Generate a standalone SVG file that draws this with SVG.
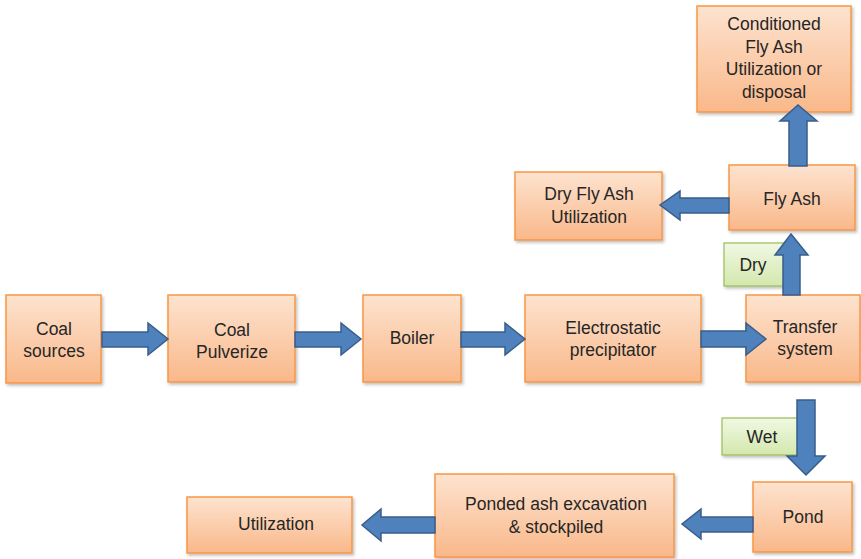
<svg xmlns="http://www.w3.org/2000/svg" width="861" height="559" viewBox="0 0 861 559">
<defs>
<linearGradient id="og" x1="0" y1="0" x2="0" y2="1">
<stop offset="0" stop-color="#fde3cf"/>
<stop offset="1" stop-color="#f9b88a"/>
</linearGradient>
<linearGradient id="gg" x1="0" y1="0" x2="0" y2="1">
<stop offset="0" stop-color="#f1f8e4"/>
<stop offset="1" stop-color="#d3e8ad"/>
</linearGradient>
<filter id="sh" x="-10%" y="-10%" width="130%" height="130%">
<feDropShadow dx="1.5" dy="2" stdDeviation="1.5" flood-color="#000" flood-opacity="0.25"/>
</filter>
</defs>
<style>
.box{fill:url(#og);stroke:#f79646;stroke-width:1.5;filter:url(#sh)}
.lbl{fill:url(#gg);stroke:#9bbb59;stroke-width:1.2;filter:url(#sh)}
.t{font-family:"Liberation Sans",Arial,sans-serif;font-size:17.5px;fill:#262626;text-anchor:middle}
.arr{fill:#4f81bd;stroke:#385d8a;stroke-width:1.5;stroke-linejoin:miter}
</style>
<rect width="861" height="559" fill="#fff"/>

<g id="label-dry"><rect class="lbl" x="724" y="243" width="60" height="43"/><text class="t" x="753" y="271">Dry</text></g>
<g id="label-wet"><rect class="lbl" x="722" y="418" width="80" height="37"/><text class="t" x="762" y="443">Wet</text></g>

<g id="coal-sources"><rect class="box" x="6" y="295" width="95" height="88"/><text class="t" x="54" y="335">Coal</text><text class="t" x="54" y="357">sources</text></g>
<g id="coal-pulverize"><rect class="box" x="168" y="295" width="127" height="87"/><text class="t" x="232" y="336">Coal</text><text class="t" x="232" y="358">Pulverize</text></g>
<g id="boiler"><rect class="box" x="363" y="295" width="98" height="87"/><text class="t" x="412" y="344">Boiler</text></g>
<g id="esp"><rect class="box" x="525" y="295" width="176" height="87"/><text class="t" x="613" y="334">Electrostatic</text><text class="t" x="613" y="356">precipitator</text></g>
<g id="transfer"><rect class="box" x="746" y="295" width="114" height="87"/><text class="t" x="805" y="333">Transfer</text><text class="t" x="805" y="355">system</text></g>
<g id="fly-ash"><rect class="box" x="729" y="165" width="126" height="65"/><text class="t" x="792" y="205">Fly Ash</text></g>
<g id="conditioned"><rect class="box" x="697" y="6" width="154" height="106"/><text class="t" x="774" y="30">Conditioned</text><text class="t" x="774" y="53">Fly Ash</text><text class="t" x="774" y="75">Utilization or</text><text class="t" x="774" y="98">disposal</text></g>
<g id="dry-fly-ash"><rect class="box" x="515" y="172" width="147" height="68"/><text class="t" x="589" y="200">Dry Fly Ash</text><text class="t" x="589" y="223">Utilization</text></g>
<g id="pond"><rect class="box" x="753" y="482" width="99" height="70"/><text class="t" x="803" y="523">Pond</text></g>
<g id="ponded"><rect class="box" x="435" y="474" width="239" height="83"/><text class="t" x="556" y="510">Ponded ash excavation</text><text class="t" x="556" y="533">&amp; stockpiled</text></g>
<g id="utilization"><rect class="box" x="187" y="497" width="165" height="56"/><text class="t" x="276" y="530">Utilization</text></g>

<g id="connectors">
<polygon class="arr" points="102,332 148,332 148,323 168,339 148,355 148,347 102,347"/>
<polygon class="arr" points="295,332 341,332 341,323 361,339 341,355 341,347 295,347"/>
<polygon class="arr" points="461,332 505,332 505,323 525,339 505,355 505,347 461,347"/>
<polygon class="arr" points="701,331 746,331 746,323 766,339 746,355 746,347 701,347"/>
<polygon class="arr" points="783,295 783,255 775,255 791,234 808,255 800,255 800,295"/>
<polygon class="arr" points="789,166 789,121 780,121 798,105 817,121 807,121 807,166"/>
<polygon class="arr" points="729,198 680,198 680,191 660,205 680,220 680,213 729,213"/>
<polygon class="arr" points="797,400 815,400 815,456 825,456 806,475 787,456 797,456"/>
<polygon class="arr" points="753,517 701,517 701,509 682,524 701,539 701,532 753,532"/>
<polygon class="arr" points="435,517 381,517 381,509 362,525 381,541 381,533 435,533"/>
</g>
</svg>
